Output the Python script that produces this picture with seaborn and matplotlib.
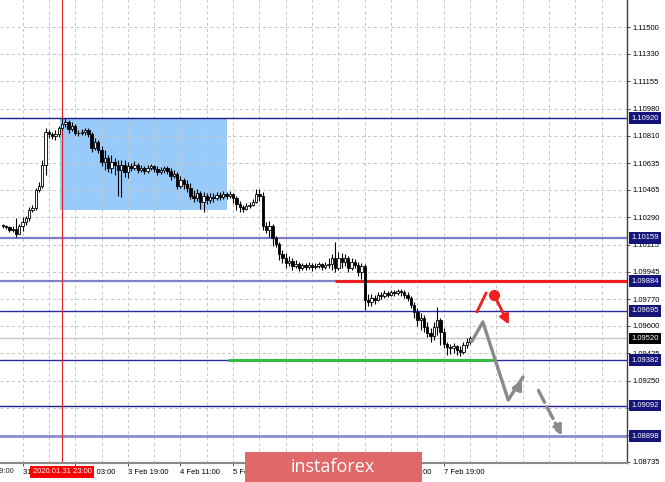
import numpy as np
import pandas as pd
import matplotlib
matplotlib.use("Agg")
import matplotlib.pyplot as plt
import matplotlib.transforms as mtransforms
from matplotlib.patches import Rectangle
import seaborn as sns

# EURUSD H1 candles, in pips from 1.10000
BASE = 1.10000
open_first = 24.1
close_pips = [23.5, 22.8, 20.9, 21.6, 18.4, 23.5, 26.0, 28.6, 33.6, 34.9,
              46.4, 48.9, 62.3, 83.2, 82.0, 80.7, 82.0, 85.8, 88.3, 89.6,
              85.2, 87.1, 82.6, 82.6, 83.2, 84.5, 82.0, 73.1, 76.9, 71.8,
              64.2, 66.7, 60.4, 64.2, 62.3, 59.1, 62.3, 57.8, 61.6, 60.4,
              62.3, 59.1, 60.4, 58.4, 60.4, 61.6, 59.7, 57.8, 59.1, 60.4,
              58.4, 55.3, 56.5, 48.9, 52.7, 50.2, 47.6, 42.5, 41.3, 44.5,
              38.7, 42.5, 40.0, 41.9, 41.3, 43.2, 41.9, 43.8, 42.5, 43.8,
              41.3, 37.5, 35.5, 34.3, 36.2, 36.8, 38.7, 43.8, 42.5, 23.5,
              20.9, 23.5, 15.8, 12.0, 5.6, 3.1, -0.1, 1.2, -2.0, -0.7,
              -3.3, -1.3, -2.6, -1.3, -2.6, -2.0, -0.7, -2.6, -1.3, -0.7,
              3.1, -3.3, 3.1, 0.6, 3.1, -3.3, 0.6, -1.3, -5.8, -2.0,
              -23.6, -24.9, -22.3, -23.6, -20.4, -21.1, -19.1, -20.4, -18.5, -19.1,
              -17.9, -18.5, -20.4, -22.3, -26.8, -31.2, -36.3, -35.0, -40.8, -44.6,
              -46.5, -40.8, -36.3, -43.9, -51.6, -53.5, -54.1, -52.8, -55.4, -56.7,
              -52.2, -50.3, -48.0]
high_pips = [24.7, 24.1, 23.5, 23.5, 28.6, 24.7, 29.2, 29.8, 35.5, 36.8,
             47.6, 51.4, 65.4, 85.8, 84.5, 83.2, 84.5, 87.1, 92.2, 92.2,
             90.9, 89.6, 88.3, 84.5, 85.2, 85.8, 85.8, 83.2, 79.4, 78.2,
             74.3, 71.8, 68.6, 68.6, 66.7, 65.4, 65.4, 65.4, 64.2, 63.5,
             64.8, 63.5, 62.3, 61.6, 62.3, 62.9, 62.3, 61.6, 61.0, 61.6,
             61.6, 60.4, 59.1, 57.8, 55.3, 54.0, 52.7, 50.8, 46.4, 47.0,
             45.7, 45.1, 44.5, 44.5, 44.5, 45.1, 45.1, 45.7, 45.1, 45.7,
             44.5, 42.5, 39.4, 36.8, 38.1, 38.7, 40.6, 47.0, 47.0, 45.1,
             26.0, 26.6, 24.7, 17.1, 13.3, 8.2, 6.3, 4.4, 3.1, 1.8,
             0.6, -0.1, -0.1, 0.6, -0.1, -0.1, 0.6, -0.1, 0.6, 3.1,
             5.6, 13.3, 6.9, 6.3, 5.6, 4.4, 3.1, 2.5, 0.6, -0.1,
             -0.7, -19.8, -19.8, -20.4, -18.5, -18.5, -17.2, -17.9, -17.2, -17.2,
             -16.6, -16.6, -17.2, -18.5, -21.1, -24.9, -28.7, -31.9, -33.1, -37.6,
             -41.4, -37.6, -28.1, -35.0, -41.4, -50.3, -51.6, -50.9, -52.2, -52.8,
             -50.3, -47.8, -46.5]
low_pips = [22.2, 21.6, 19.7, 19.7, 16.5, 20.3, 20.3, 24.1, 26.6, 32.4,
            33.6, 45.1, 47.6, 55.9, 79.4, 78.8, 78.2, 80.1, 84.5, 86.4,
            82.6, 83.9, 81.3, 80.7, 81.3, 81.3, 80.1, 70.5, 71.8, 69.9,
            61.6, 59.1, 57.8, 57.2, 55.9, 42.5, 41.9, 54.6, 54.0, 58.4,
            59.1, 57.2, 57.8, 56.5, 57.2, 59.1, 57.8, 55.9, 56.5, 57.2,
            56.5, 52.7, 54.0, 47.0, 47.6, 47.0, 45.1, 40.6, 38.7, 39.4,
            34.3, 32.4, 37.5, 38.1, 38.7, 40.0, 40.0, 40.6, 40.6, 41.3,
            38.1, 33.6, 32.4, 32.4, 33.6, 34.9, 36.2, 38.1, 39.4, 20.9,
            19.0, 16.5, 10.7, 10.1, 1.8, -0.1, -3.3, -2.0, -4.5, -3.3,
            -5.2, -4.5, -4.5, -3.9, -5.2, -3.9, -3.3, -4.5, -3.9, -3.3,
            -4.5, -5.8, -4.5, -3.3, -2.0, -5.8, -4.5, -3.3, -8.3, -10.2,
            -30.0, -27.4, -27.4, -26.1, -24.2, -23.0, -22.3, -21.7, -21.1, -21.1,
            -20.4, -21.1, -22.3, -24.2, -28.7, -35.0, -40.1, -42.7, -43.9, -47.1,
            -50.3, -49.0, -45.9, -52.2, -54.1, -58.6, -57.9, -57.3, -58.6, -59.2,
            -57.9, -54.1, -51.6]

# time axis (bar index of each label); labels under the watermark are left blank
tick_bars = [6, 22, 38, 54, 70, 86, 102, 118, 134]
tick_labels = ['31 Jan 11:00', '3 Feb 03:00', '3 Feb 19:00', '4 Feb 11:00', '5 Feb 03:00',
               '', '', '7 Feb 03:00', '7 Feb 19:00']
cross_bar = 18
cross_label = '2020.01.31 23:00'

# price axis
price_ticks = [1.11500, 1.11330, 1.11155, 1.10980, 1.10810, 1.10635, 1.10465, 1.10290, 1.10115,
               1.09945, 1.09770, 1.09600, 1.09425, 1.09250, 1.09075, 1.08905, 1.08735]
hidden_ticks = [1.09075, 1.08905]

# horizontal levels
levels = [1.10920, 1.10159, 1.09884, 1.09695, 1.09382, 1.09092, 1.08898]
level_colors = ['#1c1c8c', '#7c7cc8', '#8080cc', '#2a2aa0', '#2a2a9c', '#1c1c8c', '#8c8cd0']
level_widths = [1.0, 1.6, 1.6, 1.0, 1.0, 1.0, 2.0]
last_price = 1.09520
resistance = 1.09884
resistance_from = 101
support = 1.09382
support_span = [68.5, 149]

# blue range box
box_bars = [17.4, 68.1]
box_prices = [1.10336, 1.10920]

# drawn forecast
gray_x = [142.5, 145.9, 153.6, 158.1]
gray_y = [1.09499, 1.09624, 1.09128, 1.09274]
dash_x = [162.4, 170.3]
dash_y = [1.09204, 1.08885]
red_x = [144.1, 146.9]
red_y = [1.09688, 1.09809]
red_dot = (149.3, 1.09796)
red_tip = (154.2, 1.09592)

df = pd.DataFrame({
    'close': BASE + np.array(close_pips) / 1e4,
    'high': BASE + np.array(high_pips) / 1e4,
    'low': BASE + np.array(low_pips) / 1e4,
})
df['open'] = [BASE + open_first / 1e4] + list(df['close'][:-1])
df['bar'] = np.arange(len(df))

sns.set_theme(style='white')
plt.rcParams['font.family'] = ['Liberation Sans', 'DejaVu Sans']

fig = plt.figure(figsize=(6.65, 4.82), dpi=100)
ax = fig.add_axes([0, 19 / 482, 627 / 665, 463 / 482])
ax.set_xlim(-0.85, 189.7)
ax.set_ylim(1.08727, 1.11672)

# grid
for p in price_ticks:
    ax.axhline(p, color='#c4c4c4', lw=0.7, ls=(0, (3, 3)), zorder=1.5)
for b in range(6, 190, 8):
    ax.axvline(b, color='#c4c4c4', lw=0.7, ls=(0, (3, 3)), zorder=1.5)

ax.add_patch(Rectangle((box_bars[0], box_prices[0]), box_bars[1] - box_bars[0],
                       box_prices[1] - box_prices[0], fc='#99cbfa', ec='none', zorder=1))

for p, c, w in zip(levels, level_colors, level_widths):
    ax.axhline(p, color=c, lw=w, zorder=2)
ax.axhline(last_price, color='#c8c8c8', lw=1, zorder=1.8)
ax.hlines(resistance, resistance_from, 189.7, color='#ee1c1c', lw=2.2, zorder=2.6)
ax.hlines(support, support_span[0], support_span[1], color='#33bb44', lw=2.2, zorder=2.6)
ax.axvline(cross_bar, color='#e02020', lw=0.8, zorder=2.2)

# candles
up = df['close'] >= df['open']
ax.vlines(df['bar'], df['low'], df['high'], color='black', lw=0.8, zorder=3)
body = np.maximum((df['close'] - df['open']).abs(), 0.00003)
ax.bar(df['bar'], body, bottom=np.minimum(df['open'], df['close']), width=0.72,
       color=np.where(up, 'white', 'black'), edgecolor='black', lw=0.6, zorder=4)

# forecast arrows
sns.lineplot(x=gray_x, y=gray_y, sort=False, color='#8a8a8a', lw=2.4, ax=ax, zorder=5)
ax.annotate('', xy=(gray_x[-1], gray_y[-1]), xytext=(gray_x[-2] + 2.5, gray_y[-2] + 0.00058),
            arrowprops=dict(arrowstyle='-|>', color='#8a8a8a', lw=2.4, mutation_scale=14), zorder=6)
ax.annotate('', xy=(dash_x[1], dash_y[1]), xytext=(dash_x[0], dash_y[0]),
            arrowprops=dict(arrowstyle='-|>', color='#8a8a8a', lw=2.4, ls=(0, (4, 1.5)),
                            mutation_scale=14), zorder=6)
ax.plot(red_x, red_y, color='#f02020', lw=2, zorder=6)
ax.plot(*red_dot, 'o', color='#f02020', ms=7, zorder=6)
ax.annotate('', xy=red_tip, xytext=red_dot,
            arrowprops=dict(arrowstyle='-|>', color='#f02020', lw=2, mutation_scale=14), zorder=6)

# axes styling
for s in ['top', 'left']:
    ax.spines[s].set_visible(False)
ax.spines['right'].set_color('#404040')
ax.spines['right'].set_linewidth(1)
ax.spines['bottom'].set_color('#8a8a8a')
ax.spines['bottom'].set_linewidth(1.5)

ax.yaxis.tick_right()
ax.set_yticks(price_ticks, ['' if p in hidden_ticks else f'{p:.5f}' for p in price_ticks])
ax.set_xticks(tick_bars, tick_labels)
for lbl in ax.get_xticklabels():
    lbl.set_ha('left')
ax.tick_params(axis='both', labelsize=5.5, colors='#505050', labelcolor='black',
               length=2.5, width=0.7, pad=1.5, direction='out')
ax.tick_params(axis='x', bottom=True)
ax.tick_params(axis='y', right=True)
ax.set_xlabel('')
ax.set_ylabel('')

ax.text(-10, -0.019, '30 Jan 19:00', transform=mtransforms.blended_transform_factory(ax.transData, ax.transAxes),
        ha='left', va='center', fontsize=5.5, clip_on=False)

# right-hand price tags
tag_tr = mtransforms.blended_transform_factory(ax.transAxes, ax.transData)
for p in levels:
    ax.text(1.0 + 4 / 627, p, f'{p:.5f}', transform=tag_tr, ha='left', va='center', fontsize=5.5,
            color='white', clip_on=False, zorder=10,
            bbox=dict(boxstyle='square,pad=0.3', fc='#14147a', ec='none'))
ax.text(1.0 + 4 / 627, last_price, f'{last_price:.5f}', transform=tag_tr, ha='left', va='center',
        fontsize=5.5, color='white', clip_on=False, zorder=10,
        bbox=dict(boxstyle='square,pad=0.3', fc='black', ec='none'))

# crosshair time tag
ax.text(cross_bar, -0.019, cross_label,
        transform=mtransforms.blended_transform_factory(ax.transData, ax.transAxes),
        ha='center', va='center', fontsize=5.5, color='white', clip_on=False, zorder=10,
        bbox=dict(boxstyle='square,pad=0.3', fc='#ff0000', ec='none'))

# watermark
fig.add_artist(Rectangle((245 / 665, 0), 177 / 665, 30 / 482, transform=fig.transFigure,
                         fc='#e06868', ec='none', zorder=20))
fig.text(333 / 665, 15 / 482, 'instaforex', ha='center', va='center', color='white',
         fontsize=13, family=['Open Sans', 'DejaVu Sans'], zorder=21)

fig.savefig('out.png', dpi=100)
